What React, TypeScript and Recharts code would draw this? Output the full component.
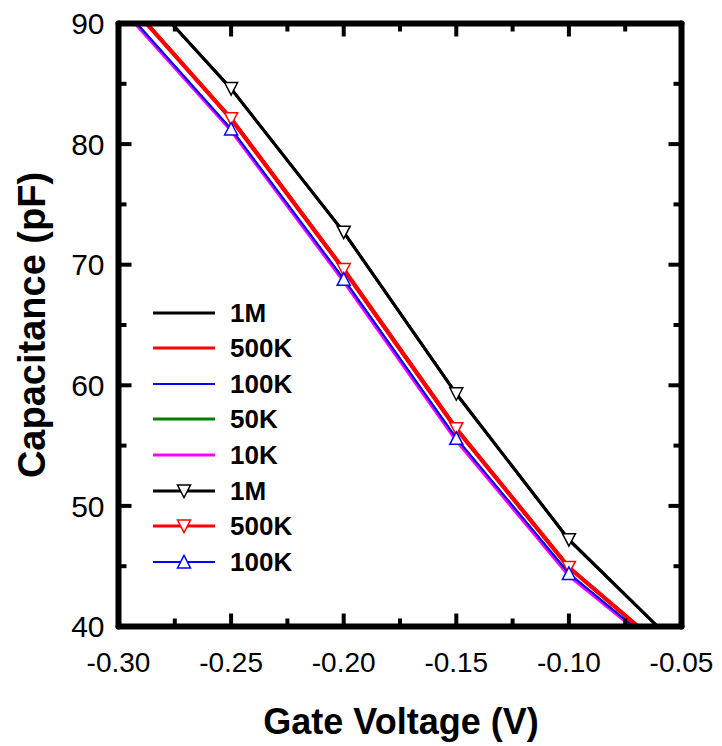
import React from 'react';
import { LineChart, Line, XAxis, YAxis, Legend } from 'recharts';

const FONT = '"Liberation Sans", Arial, Helvetica, sans-serif';

// Axis ticks
const X_TICKS = [-0.3, -0.275, -0.25, -0.225, -0.2, -0.175, -0.15, -0.125, -0.1, -0.075, -0.05];
const X_MAJOR = [-0.3, -0.25, -0.2, -0.15, -0.1, -0.05];
const Y_TICKS = [40, 45, 50, 55, 60, 65, 70, 75, 80, 85, 90];
const Y_MAJOR = [40, 50, 60, 70, 80, 90];
const MARKER_X = [-0.25, -0.2, -0.15, -0.1];

// Series values (gate voltage, capacitance)
const X_1M = [-0.2764, -0.25, -0.2, -0.15, -0.1, -0.0606];
const Y_1M = [90, 84.6, 72.7, 59.3, 47.2, 40];
const X_500K = [-0.2875, -0.25, -0.2, -0.15, -0.1, -0.0693];
const Y_500K = [90, 82.1, 69.6, 56.4, 44.9, 40];
const X_100K = [-0.2919, -0.25, -0.2, -0.15, -0.1, -0.0715];
const Y_100K = [90, 81.25, 68.8, 55.6, 44.4, 40];
const X_50K = [-0.2921, -0.25, -0.2, -0.15, -0.1, -0.0718];
const Y_50K = [90, 81.2, 68.75, 55.55, 44.35, 40];
const X_10K = [-0.2927, -0.25, -0.2, -0.15, -0.1, -0.0722];
const Y_10K = [90, 81.1, 68.6, 55.4, 44.2, 40];

const zip = (xs: number[], ys: number[]) => xs.map((x, i) => ({ x, y: ys[i] }));

type Marker = 'down' | 'up' | null;
const SERIES: { key: string; name: string; color: string; width: number; legendWidth: number; xs: number[]; ys: number[]; marker: Marker }[] = [
  { key: 'a1M', name: '1M', color: '#000000', width: 3, legendWidth: 3, xs: X_1M, ys: Y_1M, marker: null },
  { key: 'a500K', name: '500K', color: '#ff0000', width: 4, legendWidth: 3, xs: X_500K, ys: Y_500K, marker: null },
  { key: 'a100K', name: '100K', color: '#0000ff', width: 2, legendWidth: 2, xs: X_100K, ys: Y_100K, marker: null },
  { key: 'a50K', name: '50K', color: '#008000', width: 3, legendWidth: 3, xs: X_50K, ys: Y_50K, marker: null },
  { key: 'a10K', name: '10K', color: '#ff00ff', width: 3, legendWidth: 3, xs: X_10K, ys: Y_10K, marker: null },
  { key: 'b1M', name: '1M', color: '#000000', width: 3, legendWidth: 3, xs: X_1M, ys: Y_1M, marker: 'down' },
  { key: 'b500K', name: '500K', color: '#ff0000', width: 4, legendWidth: 3, xs: X_500K, ys: Y_500K, marker: 'down' },
  { key: 'b100K', name: '100K', color: '#0000ff', width: 2, legendWidth: 2, xs: X_100K, ys: Y_100K, marker: 'up' },
];

const isIn = (v: number, arr: number[]) => arr.some((a) => Math.abs(a - v) < 1e-9);

const tri = (cx: number, cy: number, kind: Marker) =>
  kind === 'down'
    ? `${cx - 6.5},${cy - 6} ${cx + 6.5},${cy - 6} ${cx},${cy + 6.5}`
    : `${cx - 6.5},${cy + 6} ${cx + 6.5},${cy + 6} ${cx},${cy - 6.5}`;

const makeDot = (kind: Marker, color: string) => (props: any) => {
  const { cx, cy, payload, index } = props;
  if (!kind || !payload || !isIn(payload.x, MARKER_X)) return <g key={`d${index}`} />;
  return <polygon key={`d${index}`} points={tri(cx, cy, kind)} fill="#ffffff" stroke={color} strokeWidth={1.5} />;
};

const MAJ = 13;
const MIN = 8;
const TW = 4;

const BottomTick = (props: any) => {
  const { x, y, payload } = props;
  const major = isIn(payload.value, X_MAJOR);
  return (
    <g>
      <line x1={x} x2={x} y1={y} y2={y - (major ? MAJ : MIN)} stroke="#000" strokeWidth={TW} />
      {major && (
        <text x={x} y={y + 45.5} textAnchor="middle" fontSize={28} fontFamily={FONT} fill="#000">
          {payload.value.toFixed(2)}
        </text>
      )}
    </g>
  );
};
const TopTick = (props: any) => {
  const { x, y, payload } = props;
  const major = isIn(payload.value, X_MAJOR);
  return <line x1={x} x2={x} y1={y} y2={y + (major ? MAJ : MIN)} stroke="#000" strokeWidth={TW} />;
};
const LeftTick = (props: any) => {
  const { x, y, payload } = props;
  const major = isIn(payload.value, Y_MAJOR);
  return (
    <g>
      <line x1={x} x2={x + (major ? MAJ : MIN)} y1={y} y2={y} stroke="#000" strokeWidth={TW} />
      {major && (
        <text x={x - 14} y={y + 10.7} textAnchor="end" fontSize={30} fontFamily={FONT} fill="#000">
          {String(payload.value)}
        </text>
      )}
    </g>
  );
};
const RightTick = (props: any) => {
  const { x, y, payload } = props;
  const major = isIn(payload.value, Y_MAJOR);
  return <line x1={x} x2={x - (major ? MAJ : MIN)} y1={y} y2={y} stroke="#000" strokeWidth={TW} />;
};

const LegendBox = () => (
  <div style={{ fontFamily: FONT }}>
    {SERIES.map((s) => (
      <div key={s.key} style={{ display: 'flex', alignItems: 'center', height: 35.57 }}>
        <svg width={62} height={20} style={{ display: 'block' }}>
          <line x1={0} y1={10} x2={62} y2={10} stroke={s.color} strokeWidth={s.legendWidth} />
          {s.marker && <polygon points={tri(31, 10, s.marker)} fill="#fff" stroke={s.color} strokeWidth={1.5} />}
        </svg>
        <span style={{ marginLeft: 15, fontWeight: 'bold', fontSize: 26, lineHeight: 1, color: '#000' }}>{s.name}</span>
      </div>
    ))}
  </div>
);

const axisLine = { stroke: '#000', strokeWidth: 6, strokeLinecap: 'round' as const };

export default function App() {
  return (
    <div style={{ position: 'absolute', left: 0, top: 0, width: 722, height: 746, background: '#fff' }}>
      <LineChart width={722} height={746} margin={{ top: 13.5, right: 30.5, bottom: 19.5, left: 18.5 }}>
        <XAxis
          xAxisId="b"
          dataKey="x"
          type="number"
          domain={[-0.3, -0.05]}
          allowDataOverflow
          ticks={X_TICKS}
          interval={0}
          tickSize={0}
          tickMargin={0}
          tickLine={false}
          axisLine={axisLine}
          height={100}
          tick={<BottomTick />}
          label={() => (
            <text x={401} y={734} textAnchor="middle" fontSize={36} fontWeight="bold" fontFamily={FONT} fill="#000">
              Gate Voltage (V)
            </text>
          )}
        />
        <XAxis
          xAxisId="t"
          orientation="top"
          dataKey="x"
          type="number"
          domain={[-0.3, -0.05]}
          allowDataOverflow
          ticks={X_TICKS}
          interval={0}
          tickSize={0}
          tickMargin={0}
          tickLine={false}
          axisLine={axisLine}
          height={10}
          tick={<TopTick />}
        />
        <YAxis
          yAxisId="l"
          type="number"
          domain={[40, 90]}
          allowDataOverflow
          ticks={Y_TICKS}
          interval={0}
          tickSize={0}
          tickMargin={0}
          tickLine={false}
          axisLine={axisLine}
          width={100}
          tick={<LeftTick />}
          label={() => (
            <text
              x={45}
              y={325}
              transform="rotate(-90 45 325)"
              textAnchor="middle"
              fontSize={38}
              fontWeight="bold"
              fontFamily={FONT}
              fill="#000"
            >
              Capacitance (pF)
            </text>
          )}
        />
        <YAxis
          yAxisId="r"
          orientation="right"
          type="number"
          domain={[40, 90]}
          allowDataOverflow
          ticks={Y_TICKS}
          interval={0}
          tickSize={0}
          tickMargin={0}
          tickLine={false}
          axisLine={axisLine}
          width={10}
          tick={<RightTick />}
        />
        <Legend
          layout="vertical"
          align="center"
          verticalAlign="middle"
          wrapperStyle={{ left: 153, top: 295, width: 200 }}
          content={() => <LegendBox />}
        />
        {SERIES.map((s) => (
          <Line
            key={s.key}
            xAxisId="b"
            yAxisId="l"
            data={zip(s.xs, s.ys)}
            dataKey="y"
            name={s.name}
            type="linear"
            stroke={s.color}
            strokeWidth={s.width}
            dot={makeDot(s.marker, s.color)}
            activeDot={false}
            isAnimationActive={false}
            legendType="line"
          />
        ))}
      </LineChart>
    </div>
  );
}
